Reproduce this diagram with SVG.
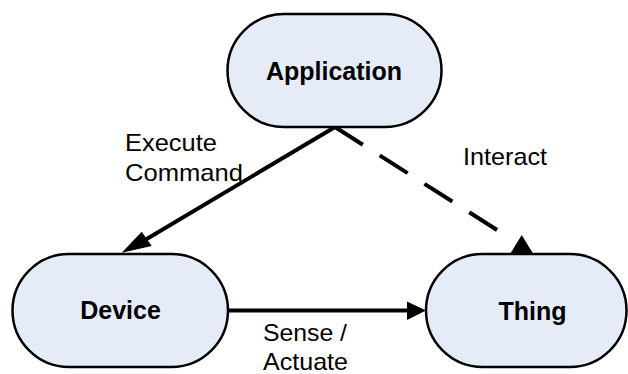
<svg xmlns="http://www.w3.org/2000/svg" width="628" height="374" viewBox="0 0 628 374">
<style>
.node{fill:#E6ECF7;stroke:#000;stroke-width:2.5}
.lbl{font-family:"Liberation Sans",Arial,sans-serif;font-size:25px;font-weight:bold;fill:#000;text-anchor:middle}
.txt{font-family:"Liberation Sans",Arial,sans-serif;font-size:24px;fill:#000}
.edge{stroke:#000;stroke-width:4;fill:none}
.head{fill:#000;stroke:none}
</style>
<rect width="628" height="374" fill="#fff"/>
<g id="connectors">
<line class="edge" x1="335" y1="127" x2="145" y2="240"/>
<polygon class="head" points="121.7,252.7 141.7,231.7 151.7,246"/>
<line class="edge" x1="335" y1="127" x2="505" y2="235" stroke-dasharray="33 20"/>
<polygon class="head" points="521.7,235 510.7,253 532.7,253"/>
<line class="edge" x1="228" y1="310.5" x2="409" y2="310.5"/>
<polygon class="head" points="407,301.5 426,310.5 407,320"/>
<text class="txt" x="125" y="151" textLength="92" lengthAdjust="spacingAndGlyphs">Execute</text>
<text class="txt" x="125" y="181" textLength="118" lengthAdjust="spacingAndGlyphs">Command</text>
<text class="txt" x="463" y="165" textLength="84" lengthAdjust="spacingAndGlyphs">Interact</text>
<text class="txt" x="263" y="341" textLength="84" lengthAdjust="spacingAndGlyphs">Sense /</text>
<text class="txt" x="263" y="370" textLength="85" lengthAdjust="spacingAndGlyphs">Actuate</text>
</g>
<g id="application">
<rect class="node" x="227.5" y="14" width="214" height="113" rx="56.5" ry="56.5"/>
<text class="lbl" x="334" y="79.5">Application</text>
</g>
<g id="device">
<rect class="node" x="12.5" y="254" width="215.5" height="113" rx="56.5" ry="56.5"/>
<text class="lbl" x="120.5" y="319">Device</text>
</g>
<g id="thing">
<rect class="node" x="426" y="254" width="200.5" height="113" rx="56.5" ry="56.5"/>
<text class="lbl" x="532.5" y="320">Thing</text>
</g>
</svg>
